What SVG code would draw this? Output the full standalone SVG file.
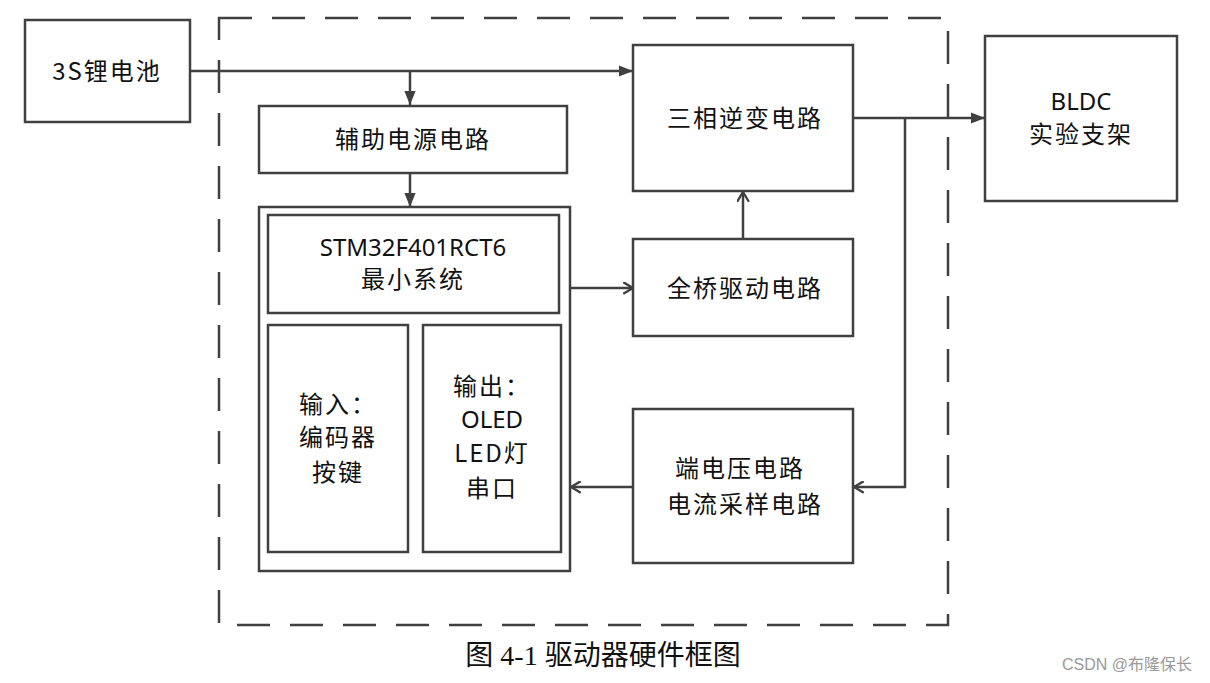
<svg xmlns="http://www.w3.org/2000/svg" width="1210" height="683" viewBox="0 0 1210 683">
<defs>
<style>
.box{fill:#fff;stroke:#404040;stroke-width:2.5}
.ln{fill:none;stroke:#404040;stroke-width:2.5}
.t{font-family:"Noto Sans CJK SC","Noto Sans",sans-serif;font-size:24px;fill:#111;text-anchor:middle;letter-spacing:2px}
.e{font-family:"Noto Sans","Noto Sans CJK SC",sans-serif;font-size:24px;fill:#111;text-anchor:middle}
</style>
<marker id="fa2" viewBox="0 0 10 10" refX="10" refY="5" markerWidth="14" markerHeight="14" markerUnits="userSpaceOnUse" orient="auto"><path d="M0,1 L10,5 L0,9 Z" fill="#404040"/></marker>
<marker id="oa" viewBox="0 0 10 10" refX="9.5" refY="5" markerWidth="13" markerHeight="13" markerUnits="userSpaceOnUse" orient="auto"><path d="M2,0.5 L9.5,5 L2,9.5" fill="none" stroke="#404040" stroke-width="1.8"/></marker>
</defs>
<rect width="1210" height="683" fill="#fff"/>
<rect x="219" y="18" width="729" height="607" fill="none" stroke="#404040" stroke-width="2.5" stroke-dasharray="33,20"/>
<g id="connectors">
<path class="ln" d="M190,71 H633" marker-end="url(#fa2)"/>
<path class="ln" d="M410,71 V105" marker-end="url(#fa2)"/>
<path class="ln" d="M410,173 V207" marker-end="url(#fa2)"/>
<path class="ln" d="M853,118 H985" marker-end="url(#fa2)"/>
<path class="ln" d="M905,118 V487 H854" marker-end="url(#oa)"/>
<path class="ln" d="M743,239 V192" marker-end="url(#oa)"/>
<path class="ln" d="M570,288 H633" marker-end="url(#oa)"/>
<path class="ln" d="M633,487 H571" marker-end="url(#oa)"/>
</g>
<g id="battery"><rect class="box" x="25" y="20" width="165" height="102"/><text class="t" x="107" y="80">3S锂电池</text></g>
<g id="aux"><rect class="box" x="259" y="106" width="308" height="67"/><text class="t" x="413" y="148">辅助电源电路</text></g>
<g id="mcu"><rect class="box" x="259" y="207" width="311" height="364"/>
<rect class="box" x="268" y="215" width="291" height="98"/>
<text class="e" x="413" y="256">STM32F401RCT6</text>
<text class="t" x="413" y="288">最小系统</text></g>
<g id="input"><rect class="box" x="268" y="325" width="140" height="227"/>
<text class="t" x="338" y="413">输入：</text>
<text class="t" x="338" y="446">编码器</text>
<text class="t" x="338" y="481">按键</text></g>
<g id="output"><rect class="box" x="423" y="325" width="138" height="227"/>
<text class="t" x="492" y="395">输出：</text>
<text class="e" x="492" y="428">OLED</text>
<text class="t" x="492" y="462">LED灯</text>
<text class="t" x="492" y="497">串口</text></g>
<g id="inverter"><rect class="box" x="633" y="45" width="220" height="146"/><text class="t" x="745" y="127">三相逆变电路</text></g>
<g id="bridge"><rect class="box" x="633" y="239" width="220" height="97"/><text class="t" x="745" y="297">全桥驱动电路</text></g>
<g id="sense"><rect class="box" x="633" y="409" width="220" height="154"/>
<text class="t" x="740" y="477">端电压电路</text>
<text class="t" x="745" y="513">电流采样电路</text></g>
<g id="bldc"><rect class="box" x="985" y="36" width="192" height="165"/>
<text class="e" x="1081" y="110">BLDC</text>
<text class="t" x="1081" y="143">实验支架</text></g>
<text x="603" y="665" font-family="'Liberation Serif','Noto Sans CJK SC',serif" font-size="28" fill="#111" text-anchor="middle">图 4-1 驱动器硬件框图</text>
<text x="1127" y="670" font-family="'Liberation Sans','Noto Sans CJK SC',sans-serif" font-size="16" fill="#999" text-anchor="middle">CSDN @布隆保长</text>
</svg>
